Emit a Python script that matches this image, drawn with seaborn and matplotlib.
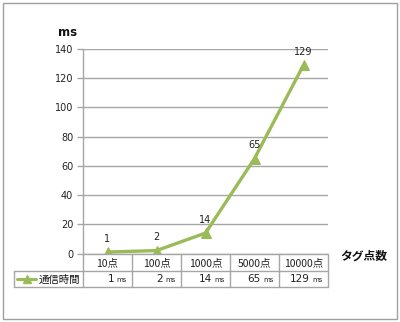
import matplotlib
matplotlib.use("Agg")
import matplotlib.pyplot as plt
import seaborn as sns
import pandas as pd
from matplotlib.lines import Line2D
from matplotlib.patches import Rectangle

categories = ["10点", "100点", "1000点", "5000点", "10000点"]
values = [1, 2, 14, 65, 129]
series_name = "通信時間"
y_ticks = [0, 20, 40, 60, 80, 100, 120, 140]
y_unit = "ms"
x_title = "タグ点数"
green = "#9bbb59"
gray = "#a6a6a6"

sns.set_theme(style="white")
plt.rcParams['font.family'] = ['DejaVu Sans', 'Noto Sans CJK JP']

W, H = 400, 322
fig = plt.figure(figsize=(W / 100, H / 100), dpi=100)

def fx(px):
    return px / W

def fy(py):
    return 1 - py / H

L, R, T, B = 83, 328, 49, 253.5
ax = fig.add_axes([fx(L), fy(B), fx(R) - fx(L), fy(T) - fy(B)])

df = pd.DataFrame({"pos": range(len(categories)), "val": values})
sns.lineplot(data=df, x="pos", y="val", ax=ax, color=green, linewidth=2.4,
             marker="^", markersize=7.5, markeredgecolor=green, markerfacecolor=green)

ax.set_xlim(-0.5, len(categories) - 0.5)
ax.set_ylim(0, 140)
ax.set_yticks(y_ticks)
ax.set_yticklabels([str(t) for t in y_ticks], fontsize=7, color="#222222")
ax.set_xticks([])
ax.set_xlabel("")
ax.set_ylabel("")
for t in y_ticks:
    ax.axhline(t, color=gray, linewidth=1, zorder=0)
for s in ["top", "right", "bottom"]:
    ax.spines[s].set_visible(False)
ax.spines["left"].set_color(gray)
ax.spines["left"].set_linewidth(1)
ax.tick_params(axis="y", length=4, width=1, color=gray, left=True, pad=3)
ax.patch.set_alpha(0)

for i, v in enumerate(values):
    ax.annotate(str(v), (i, v), xytext=(0, 6), textcoords="offset points",
                ha="center", va="bottom", fontsize=7, color="#222222")

# unit and axis title
fig.text(fx(68), fy(33), y_unit, ha="center", va="center", fontsize=8.5,
         fontweight="bold", color="#111111")
fig.text(fx(364), fy(256), x_title, ha="center", va="center", fontsize=8.5,
         fontweight="bold", color="#111111", family=['Noto Sans CJK JP'])

# data table
row1_top, row1_bot, row2_bot = B, 271, 287
leg_left = 14
colw = (R - L) / len(categories)

def hline(y, x0, x1):
    fig.add_artist(Line2D([fx(x0), fx(x1)], [fy(y), fy(y)], color=gray, lw=1))

def vline(x, y0, y1):
    fig.add_artist(Line2D([fx(x), fx(x)], [fy(y0), fy(y1)], color=gray, lw=1))

hline(row1_top, L, R)
hline(row1_bot, leg_left, R)
hline(row2_bot, leg_left, R)
vline(L, row1_top, row2_bot)
vline(leg_left, row1_bot, row2_bot)
for i in range(1, len(categories) + 1):
    vline(L + i * colw, row1_top, row2_bot)

for i, c in enumerate(categories):
    cx = L + (i + 0.5) * colw
    fig.text(fx(cx), fy((row1_top + row1_bot) / 2 + 0.5), c, ha="center", va="center",
             fontsize=7.5, color="#222222", family=['Noto Sans CJK JP'])
    right = L + (i + 1) * colw - 5
    fig.text(fx(right), fy((row1_bot + row2_bot) / 2 + 0.5), "ms", ha="right",
             va="center", fontsize=5, color="#222222")
    fig.text(fx(right - 13), fy((row1_bot + row2_bot) / 2 + 0.5), str(values[i]),
             ha="right", va="center", fontsize=7.5, color="#222222")

# legend key in table
ly = (row1_bot + row2_bot) / 2
fig.add_artist(Line2D([fx(17), fx(36)], [fy(ly), fy(ly)], color=green, lw=2.2))
fig.add_artist(Line2D([fx(26.5)], [fy(ly)], color=green, marker="^", markersize=6,
                      markerfacecolor=green, markeredgecolor=green, lw=0))
fig.text(fx(39), fy(ly + 0.5), series_name, ha="left", va="center", fontsize=7.5,
         color="#111111", family=['Noto Sans CJK JP'])

# outer border
fig.add_artist(Rectangle((fx(3), fy(318.5)), fx(397) - fx(3), fy(2.5) - fy(318.5),
                         fill=False, edgecolor="#a0a0a0", lw=1))

fig.savefig("out.png", dpi=100)
